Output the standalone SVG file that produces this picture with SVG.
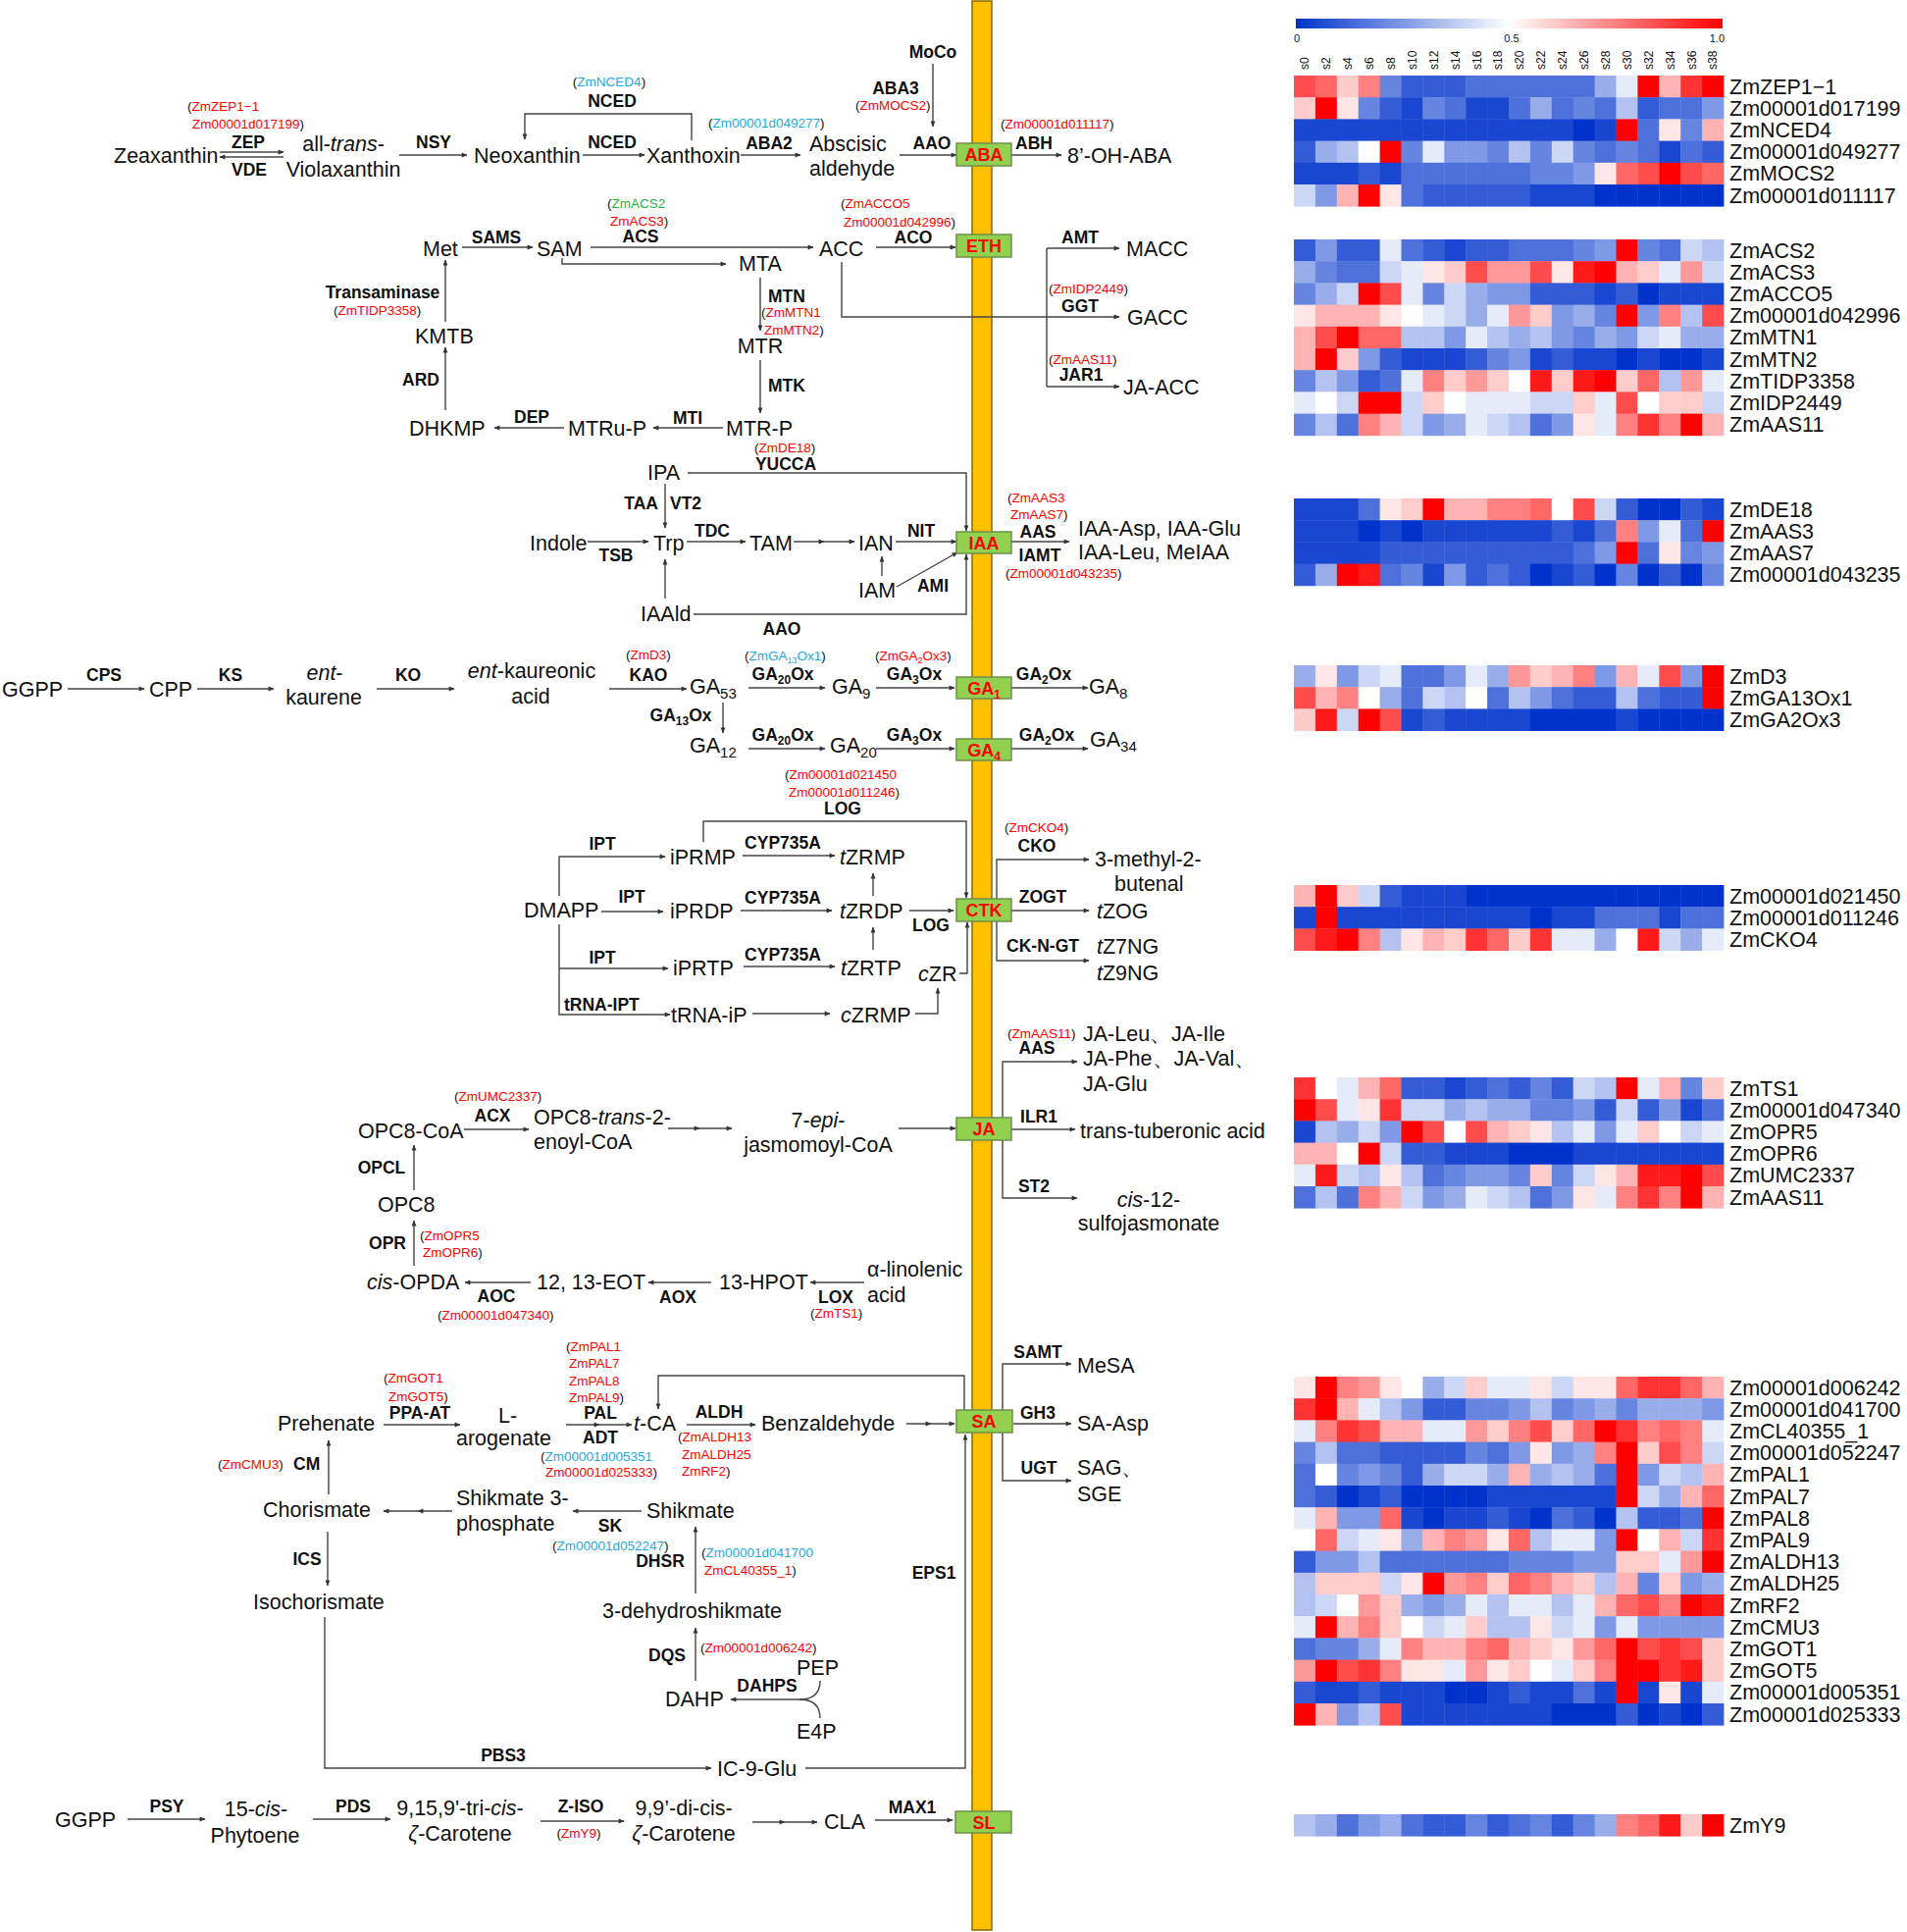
<svg xmlns="http://www.w3.org/2000/svg" width="1944" height="1969" viewBox="0 0 1944 1969">
<style>
text{font-family:"Liberation Sans",Arial,sans-serif;fill:#111}
.tc{font-size:21.5px}
.te{font-size:17.5px;font-weight:bold}
.tg{font-size:13.5px}
.mi{text-anchor:middle}
.en{text-anchor:end}
.it{font-style:italic}
.rd{fill:#FF0000}
.cy{fill:#22A9E1}
.gn{fill:#21B24B}
.bx{fill:#92D050;stroke:#6f8f4a;stroke-width:1.5}
.bt{font-size:18px;font-weight:bold;fill:#FF0000;text-anchor:middle}
.ln path{fill:none;stroke:#444;stroke-width:1.4}
.ln path.arr{marker-end:url(#ah)}
.ln path.mk{marker-mid:url(#ah);marker-end:url(#ah)}
.hl{font-size:21.5px}
.sl{font-size:12px}
.cb{font-size:11px}
.hm rect{width:22.3px;height:22.6px}
.hm .a{fill:#0033CC}.hm .b{fill:#1A47D1}.hm .c{fill:#335CD6}.hm .d{fill:#4D70DB}.hm .e{fill:#6685E0}.hm .f{fill:#8099E6}.hm .g{fill:#99ADEB}.hm .h{fill:#B3C2F0}.hm .i{fill:#CCD6F5}.hm .j{fill:#E6EBFA}.hm .k{fill:#FFFFFF}.hm .l{fill:#FFE6E6}.hm .m{fill:#FFCCCC}.hm .n{fill:#FFB3B3}.hm .o{fill:#FF9999}.hm .p{fill:#FF8080}.hm .q{fill:#FF6666}.hm .r{fill:#FF4D4D}.hm .s{fill:#FF3333}.hm .t{fill:#FF1A1A}.hm .u{fill:#FF0000}
</style>
<defs>
<marker id="ah" viewBox="0 0 10 10" refX="9" refY="5" markerWidth="7" markerHeight="6" markerUnits="userSpaceOnUse" orient="auto"><path d="M0,1 L10,5 L0,9 z" fill="#333"/></marker>
<linearGradient id="cbar" x1="0" y1="0" x2="1" y2="0"><stop offset="0" stop-color="#0033CC"/><stop offset="0.5" stop-color="#FFFFFF"/><stop offset="1" stop-color="#FF0000"/></linearGradient>
</defs>
<rect width="1944" height="1969" fill="#FFFFFF"/>
<g id="bar"><rect x="991" y="1" width="20" height="1966" fill="#FFC000" stroke="#8a6a00" stroke-width="1.5"/></g>

<g id="connectors" class="ln">
<path class="arr" d="M224 155 H289"/>
<path class="arr" d="M289 160 H224"/>
<path class="arr" d="M407 158 H476"/>
<path class="arr" d="M594 158 H657"/>
<path class="arr" d="M705 143 V116 H535 V142"/>
<path class="arr" d="M755 158 H816"/>
<path class="arr" d="M951 65 V129"/>
<path class="arr" d="M917 158 H975"/>
<path class="arr" d="M1031 158 H1082"/>
<path class="arr" d="M471 252 H543"/>
<path class="arr" d="M602 252 H829"/>
<path class="arr" d="M573 263 V269 H740"/>
<path class="arr" d="M893 252 H974"/>
<path class="arr" d="M858 267 V323 H1141"/>
<path d="M1067 253 V394"/>
<path class="arr" d="M1067 253 H1141"/>
<path class="arr" d="M1067 394 H1141"/>
<path class="arr" d="M775 283 V337"/>
<path class="arr" d="M775 367 V421"/>
<path class="arr" d="M737 436 H666"/>
<path class="arr" d="M575 436 H504"/>
<path class="arr" d="M454 418 V354"/>
<path class="arr" d="M454 328 V265"/>
<path class="arr" d="M701 482 H985 V541"/>
<path class="arr" d="M678 493 V538"/>
<path class="arr" d="M599 552 H661"/>
<path class="arr" d="M700 552 H760"/>
<path class="mk" d="M809 552 L840 552 L871 552"/>
<path class="arr" d="M913 552 H975"/>
<path class="arr" d="M899 587 V567"/>
<path class="arr" d="M914 598 L976 563"/>
<path class="arr" d="M707 626 H985 V565"/>
<path class="arr" d="M678 610 V570"/>
<path class="arr" d="M1031 552 H1090"/>
<path class="arr" d="M69 702 H147"/>
<path class="arr" d="M201 702 H279"/>
<path class="arr" d="M384 702 H463"/>
<path class="arr" d="M621 702 H700"/>
<path class="arr" d="M763 701 H841"/>
<path class="arr" d="M893 701 H973"/>
<path class="arr" d="M1031 701 H1109"/>
<path class="arr" d="M737 716 V747"/>
<path class="arr" d="M763 763 H841"/>
<path class="arr" d="M893 763 H973"/>
<path class="arr" d="M1031 763 H1109"/>
<path class="arr" d="M717 858 V837 H985 V915"/>
<path class="arr" d="M570 913 V873 H678"/>
<path class="arr" d="M613 929 H676"/>
<path class="arr" d="M570 942 V1034 H683"/>
<path class="arr" d="M570 987 H681"/>
<path class="arr" d="M757 872 H851"/>
<path class="arr" d="M755 928 H848"/>
<path class="arr" d="M758 985 H851"/>
<path class="arr" d="M927 928 H972"/>
<path class="arr" d="M890 913 V890"/>
<path class="arr" d="M890 968 V945"/>
<path class="arr" d="M978 992 H986 V940"/>
<path class="arr" d="M767 1033 H846"/>
<path class="arr" d="M933 1033 H956 V1007"/>
<path class="arr" d="M1016 916 V876 H1110"/>
<path class="arr" d="M1031 928 H1110"/>
<path class="arr" d="M1016 939 V979 H1110"/>
<path class="arr" d="M473 1151 H539"/>
<path class="mk" d="M681 1150 L713 1150 L746 1150"/>
<path class="arr" d="M916 1150 H974"/>
<path class="arr" d="M1022 1139 V1082 H1098"/>
<path class="arr" d="M1031 1151 H1096"/>
<path class="arr" d="M1022 1162 V1221 H1098"/>
<path class="arr" d="M422 1213 V1167"/>
<path class="arr" d="M422 1290 V1244"/>
<path class="arr" d="M541 1307 H474"/>
<path class="arr" d="M725 1307 H661"/>
<path class="arr" d="M881 1307 H826"/>
<path class="arr" d="M391 1452 H469"/>
<path class="mk" d="M577 1452 L611 1452 L644 1452"/>
<path class="arr" d="M700 1452 H770"/>
<path class="mk" d="M924 1451 L949 1451 L973 1451"/>
<path class="arr" d="M983 1437 V1402 H671 V1436"/>
<path class="arr" d="M1022 1437 V1390 H1092"/>
<path class="arr" d="M1033 1451 H1092"/>
<path class="arr" d="M1022 1460 V1509 H1092"/>
<path class="arr" d="M335 1523 V1468"/>
<path class="mk" d="M461 1540 L426 1540 L391 1540"/>
<path class="arr" d="M654 1540 H584"/>
<path class="arr" d="M709 1624 V1556"/>
<path class="arr" d="M709 1713 V1659"/>
<path class="arr" d="M815 1732 H745"/>
<path d="M836 1713 Q836 1732 815 1732"/>
<path d="M836 1751 Q836 1732 815 1732"/>
<path class="arr" d="M334 1561 V1616"/>
<path class="arr" d="M331 1648 V1802 H725"/>
<path class="arr" d="M821 1802 H984 V1462"/>
<path class="arr" d="M130 1854 H209"/>
<path class="arr" d="M319 1854 H398"/>
<path class="arr" d="M551 1856 H636"/>
<path class="mk" d="M767 1857 L800 1857 L833 1857"/>
<path class="arr" d="M892 1855 H971"/>
</g>

<g id="hormones">
<g id="ABA"><rect class="bx" x="975" y="146" width="56" height="23"/><text class="bt" x="1003" y="164">ABA</text></g>
<g id="ETH"><rect class="bx" x="975" y="239" width="56" height="23"/><text class="bt" x="1003" y="257">ETH</text></g>
<g id="IAA"><rect class="bx" x="975" y="542" width="56" height="22"/><text class="bt" x="1003" y="559.5">IAA</text></g>
<g id="GA1"><rect class="bx" x="975" y="690" width="56" height="22"/><text class="bt" x="1003" y="707.5">GA<tspan font-size="12" dy="4">1</tspan></text></g>
<g id="GA4"><rect class="bx" x="975" y="753" width="56" height="22"/><text class="bt" x="1003" y="770.5">GA<tspan font-size="12" dy="4">4</tspan></text></g>
<g id="CTK"><rect class="bx" x="975" y="916" width="56" height="23"/><text class="bt" x="1003" y="934">CTK</text></g>
<g id="JA"><rect class="bx" x="975" y="1139" width="56" height="23"/><text class="bt" x="1003" y="1157">JA</text></g>
<g id="SA"><rect class="bx" x="975" y="1437" width="57" height="23"/><text class="bt" x="1003" y="1455">SA</text></g>
<g id="SL"><rect class="bx" x="974" y="1846" width="57" height="22"/><text class="bt" x="1003" y="1863.5">SL</text></g>
</g>

<g id="nodes-aba">
<g id="n-zeaxanthin"><text class="tc" x="116" y="166">Zeaxanthin</text></g>
<g id="n-violaxanthin"><text class="tc mi" x="350" y="154">all-<tspan class="it">trans</tspan>-</text><text class="tc mi" x="350" y="180">Violaxanthin</text></g>
<g id="n-neoxanthin"><text class="tc" x="483" y="166">Neoxanthin</text></g>
<g id="n-xanthoxin"><text class="tc" x="659" y="166">Xanthoxin</text></g>
<g id="n-abscisic"><text class="tc" x="825" y="154">Abscisic</text><text class="tc" x="825" y="179">aldehyde</text></g>
<g id="n-moco"><text class="te mi" x="951" y="59">MoCo</text></g>
<g id="n-ohaba"><text class="tc" x="1088" y="166">8’-OH-ABA</text></g>
</g>
<g id="labels-aba">
<text class="tg" x="191" y="113">(<tspan class="rd">ZmZEP1−1</tspan></text>
<text class="tg" x="196" y="131"><tspan class="rd">Zm00001d017199</tspan>)</text>
<text class="te mi" x="253" y="151">ZEP</text>
<text class="te mi" x="254" y="179">VDE</text>
<text class="te mi" x="442" y="151">NSY</text>
<text class="te mi" x="624" y="151">NCED</text>
<text class="te mi" x="624" y="109">NCED</text>
<text class="tg mi" x="621" y="88">(<tspan class="cy">ZmNCED4</tspan>)</text>
<text class="tg" x="722" y="130">(<tspan class="cy">Zm00001d049277</tspan>)</text>
<text class="te mi" x="784" y="152">ABA2</text>
<text class="te mi" x="913" y="96">ABA3</text>
<text class="tg" x="872" y="112">(<tspan class="rd">ZmMOCS2</tspan>)</text>
<text class="te mi" x="950" y="152">AAO</text>
<text class="tg" x="1020" y="131">(<tspan class="rd">Zm00001d011117</tspan>)</text>
<text class="te mi" x="1054" y="152">ABH</text>
</g>

<g id="nodes-eth">
<g id="n-met"><text class="tc" x="431" y="261">Met</text></g>
<g id="n-sam"><text class="tc" x="547" y="261">SAM</text></g>
<g id="n-mta"><text class="tc" x="753" y="276">MTA</text></g>
<g id="n-acc"><text class="tc" x="835" y="261">ACC</text></g>
<g id="n-macc"><text class="tc" x="1148" y="261">MACC</text></g>
<g id="n-gacc"><text class="tc" x="1149" y="331">GACC</text></g>
<g id="n-jaacc"><text class="tc" x="1145" y="402">JA-ACC</text></g>
<g id="n-mtr"><text class="tc mi" x="775" y="360">MTR</text></g>
<g id="n-mtrp"><text class="tc" x="740" y="444">MTR-P</text></g>
<g id="n-mtrup"><text class="tc" x="579" y="444">MTRu-P</text></g>
<g id="n-dhkmp"><text class="tc" x="417" y="444">DHKMP</text></g>
<g id="n-kmtb"><text class="tc" x="423" y="350">KMTB</text></g>
</g>
<g id="labels-eth">
<text class="te mi" x="506" y="248">SAMS</text>
<text class="te mi" x="653" y="247">ACS</text>
<text class="tg" x="619" y="212">(<tspan class="gn">ZmACS2</tspan></text>
<text class="tg" x="622" y="230"><tspan class="rd">ZmACS3</tspan>)</text>
<text class="te mi" x="931" y="248">ACO</text>
<text class="tg" x="857" y="212">(<tspan class="rd">ZmACCO5</tspan></text>
<text class="tg" x="860" y="231"><tspan class="rd">Zm00001d042996</tspan>)</text>
<text class="te mi" x="1101" y="248">AMT</text>
<text class="tg" x="1069" y="299">(<tspan class="rd">ZmIDP2449</tspan>)</text>
<text class="te mi" x="1101" y="318">GGT</text>
<text class="tg" x="1069" y="371">(<tspan class="rd">ZmAAS11</tspan>)</text>
<text class="te mi" x="1102" y="388">JAR1</text>
<text class="te mi" x="802" y="308">MTN</text>
<text class="tg" x="776" y="323">(<tspan class="rd">ZmMTN1</tspan></text>
<text class="tg" x="779" y="341"><tspan class="rd">ZmMTN2</tspan>)</text>
<text class="te mi" x="802" y="399">MTK</text>
<text class="te mi" x="701" y="432">MTI</text>
<text class="te mi" x="542" y="431">DEP</text>
<text class="te mi" x="429" y="393">ARD</text>
<text class="te mi" x="390" y="304">Transaminase</text>
<text class="tg" x="340" y="321">(<tspan class="rd">ZmTIDP3358</tspan>)</text>
</g>

<g id="nodes-iaa">
<g id="n-ipa"><text class="tc" x="660" y="489">IPA</text></g>
<g id="n-trp"><text class="tc" x="666" y="561">Trp</text></g>
<g id="n-indole"><text class="tc" x="540" y="561">Indole</text></g>
<g id="n-tam"><text class="tc" x="764" y="561">TAM</text></g>
<g id="n-ian"><text class="tc" x="875" y="561">IAN</text></g>
<g id="n-iam"><text class="tc" x="875" y="609">IAM</text></g>
<g id="n-iaald"><text class="tc" x="653" y="633">IAAld</text></g>
<g id="n-iaaconj"><text class="tc" x="1099" y="546">IAA-Asp, IAA-Glu</text><text class="tc" x="1099" y="570">IAA-Leu, MeIAA</text></g>
</g>
<g id="labels-iaa">
<text class="tg" x="769" y="461">(<tspan class="rd">ZmDE18</tspan>)</text>
<text class="te mi" x="801" y="479">YUCCA</text>
<text class="te en" x="671" y="519">TAA</text>
<text class="te" x="683" y="519">VT2</text>
<text class="te mi" x="628" y="572">TSB</text>
<text class="te mi" x="726" y="547">TDC</text>
<text class="te mi" x="939" y="547">NIT</text>
<text class="te mi" x="951" y="603">AMI</text>
<text class="te mi" x="797" y="647">AAO</text>
<text class="tg" x="1027" y="512">(<tspan class="rd">ZmAAS3</tspan></text>
<text class="tg" x="1030" y="529"><tspan class="rd">ZmAAS7</tspan>)</text>
<text class="te mi" x="1058" y="548">AAS</text>
<text class="te mi" x="1060" y="572">IAMT</text>
<text class="tg" x="1025" y="589">(<tspan class="rd">Zm00001d043235</tspan>)</text>
</g>

<g id="nodes-ga">
<g id="n-ggpp1"><text class="tc" x="2" y="710">GGPP</text></g>
<g id="n-cpp"><text class="tc" x="152" y="710">CPP</text></g>
<g id="n-entkaurene"><text class="tc mi" x="331" y="693"><tspan class="it">ent</tspan>-</text><text class="tc mi" x="330" y="718">kaurene</text></g>
<g id="n-kaureonic"><text class="tc mi" x="542" y="691"><tspan class="it">ent</tspan>-kaureonic</text><text class="tc mi" x="541" y="717">acid</text></g>
<g id="n-ga53"><text class="tc" x="703" y="707">GA<tspan font-size="15" dy="5">53</tspan></text></g>
<g id="n-ga9"><text class="tc" x="848" y="707">GA<tspan font-size="15" dy="5">9</tspan></text></g>
<g id="n-ga8"><text class="tc" x="1110" y="707">GA<tspan font-size="15" dy="5">8</tspan></text></g>
<g id="n-ga12"><text class="tc" x="703" y="767">GA<tspan font-size="15" dy="5">12</tspan></text></g>
<g id="n-ga20"><text class="tc" x="846" y="767">GA<tspan font-size="15" dy="5">20</tspan></text></g>
<g id="n-ga34"><text class="tc" x="1111" y="761">GA<tspan font-size="15" dy="5">34</tspan></text></g>
</g>
<g id="labels-ga">
<text class="te mi" x="106" y="694">CPS</text>
<text class="te mi" x="235" y="694">KS</text>
<text class="te mi" x="416" y="694">KO</text>
<text class="te mi" x="661" y="694">KAO</text>
<text class="tg" x="638" y="672">(<tspan class="rd">ZmD3</tspan>)</text>
<text class="te mi" x="798" y="693">GA<tspan font-size="12" dy="4">20</tspan><tspan dy="-4">Ox</tspan></text>
<text class="tg" x="759" y="673">(<tspan class="cy">ZmGA<tspan font-size="9" dy="3">13</tspan><tspan dy="-3">Ox1</tspan></tspan>)</text>
<text class="te mi" x="932" y="693">GA<tspan font-size="12" dy="4">3</tspan><tspan dy="-4">Ox</tspan></text>
<text class="tg" x="892" y="673">(<tspan class="rd">ZmGA<tspan font-size="9" dy="3">2</tspan><tspan dy="-3">Ox3</tspan></tspan>)</text>
<text class="te mi" x="1064" y="693">GA<tspan font-size="12" dy="4">2</tspan><tspan dy="-4">Ox</tspan></text>
<text class="te mi" x="694" y="735">GA<tspan font-size="12" dy="4">13</tspan><tspan dy="-4">Ox</tspan></text>
<text class="te mi" x="798" y="755">GA<tspan font-size="12" dy="4">20</tspan><tspan dy="-4">Ox</tspan></text>
<text class="te mi" x="932" y="755">GA<tspan font-size="12" dy="4">3</tspan><tspan dy="-4">Ox</tspan></text>
<text class="te mi" x="1067" y="755">GA<tspan font-size="12" dy="4">2</tspan><tspan dy="-4">Ox</tspan></text>
</g>

<g id="nodes-ctk">
<g id="n-dmapp"><text class="tc" x="534" y="935">DMAPP</text></g>
<g id="n-iprmp"><text class="tc" x="683" y="881">iPRMP</text></g>
<g id="n-tzrmp"><text class="tc" x="856" y="881"><tspan class="it">t</tspan>ZRMP</text></g>
<g id="n-iprdp"><text class="tc" x="683" y="936">iPRDP</text></g>
<g id="n-tzrdp"><text class="tc" x="856" y="936"><tspan class="it">t</tspan>ZRDP</text></g>
<g id="n-iprtp"><text class="tc" x="686" y="994">iPRTP</text></g>
<g id="n-tzrtp"><text class="tc" x="857" y="994"><tspan class="it">t</tspan>ZRTP</text></g>
<g id="n-czr"><text class="tc" x="936" y="1000"><tspan class="it">c</tspan>ZR</text></g>
<g id="n-trnaip"><text class="tc" x="684" y="1042">tRNA-iP</text></g>
<g id="n-czrmp"><text class="tc" x="857" y="1042"><tspan class="it">c</tspan>ZRMP</text></g>
<g id="n-butenal"><text class="tc" x="1116" y="883">3-methyl-2-</text><text class="tc" x="1136" y="908">butenal</text></g>
<g id="n-tzog"><text class="tc" x="1118" y="936"><tspan class="it">t</tspan>ZOG</text></g>
<g id="n-tzng"><text class="tc" x="1118" y="972"><tspan class="it">t</tspan>Z7NG</text><text class="tc" x="1118" y="999"><tspan class="it">t</tspan>Z9NG</text></g>
</g>
<g id="labels-ctk">
<text class="tg" x="800" y="794">(<tspan class="rd">Zm00001d021450</tspan></text>
<text class="tg" x="804" y="812"><tspan class="rd">Zm00001d011246</tspan>)</text>
<text class="te mi" x="859" y="830">LOG</text>
<text class="te mi" x="614" y="866">IPT</text>
<text class="te mi" x="644" y="920">IPT</text>
<text class="te mi" x="614" y="982">IPT</text>
<text class="te" x="575" y="1030">tRNA-IPT</text>
<text class="te mi" x="798" y="865">CYP735A</text>
<text class="te mi" x="798" y="921">CYP735A</text>
<text class="te mi" x="798" y="979">CYP735A</text>
<text class="te mi" x="949" y="949">LOG</text>
<text class="tg" x="1024" y="848">(<tspan class="rd">ZmCKO4</tspan>)</text>
<text class="te mi" x="1057" y="868">CKO</text>
<text class="te mi" x="1063" y="920">ZOGT</text>
<text class="te mi" x="1063" y="970">CK-N-GT</text>
</g>

<g id="nodes-ja">
<g id="n-opc8coa"><text class="tc" x="365" y="1160">OPC8-CoA</text></g>
<g id="n-enoyl"><text class="tc" x="544" y="1146">OPC8-<tspan class="it">trans</tspan>-2-</text><text class="tc" x="544" y="1171">enoyl-CoA</text></g>
<g id="n-jasmo"><text class="tc mi" x="834" y="1149">7-<tspan class="it">epi</tspan>-</text><text class="tc mi" x="834" y="1174">jasmomoyl-CoA</text></g>
<g id="n-jaconj"><text class="tc" x="1104" y="1061">JA-Leu、JA-Ile</text><text class="tc" x="1104" y="1086">JA-Phe、JA-Val、</text><text class="tc" x="1104" y="1112">JA-Glu</text></g>
<g id="n-tuberonic"><text class="tc" x="1101" y="1160">trans-tuberonic acid</text></g>
<g id="n-sulfo"><text class="tc mi" x="1171" y="1230"><tspan class="it">cis</tspan>-12-</text><text class="tc mi" x="1171" y="1254">sulfojasmonate</text></g>
<g id="n-opc8"><text class="tc" x="385" y="1235">OPC8</text></g>
<g id="n-opda"><text class="tc" x="374" y="1314"><tspan class="it">cis</tspan>-OPDA</text></g>
<g id="n-eot"><text class="tc" x="547" y="1314">12, 13-EOT</text></g>
<g id="n-hpot"><text class="tc" x="733" y="1314">13-HPOT</text></g>
<g id="n-linolenic"><text class="tc" x="884" y="1301">α-linolenic</text><text class="tc" x="884" y="1327">acid</text></g>
</g>
<g id="labels-ja">
<text class="tg" x="463" y="1122">(<tspan class="rd">ZmUMC2337</tspan>)</text>
<text class="te mi" x="502" y="1143">ACX</text>
<text class="tg" x="1027" y="1058">(<tspan class="rd">ZmAAS11</tspan>)</text>
<text class="te mi" x="1057" y="1074">AAS</text>
<text class="te mi" x="1059" y="1144">ILR1</text>
<text class="te mi" x="1054" y="1215">ST2</text>
<text class="te mi" x="389" y="1196">OPCL</text>
<text class="te mi" x="395" y="1273">OPR</text>
<text class="tg" x="428" y="1264">(<tspan class="rd">ZmOPR5</tspan></text>
<text class="tg" x="431" y="1281"><tspan class="rd">ZmOPR6</tspan>)</text>
<text class="te mi" x="506" y="1327">AOC</text>
<text class="tg" x="446" y="1345">(<tspan class="rd">Zm00001d047340</tspan>)</text>
<text class="te mi" x="691" y="1328">AOX</text>
<text class="te mi" x="852" y="1328">LOX</text>
<text class="tg" x="826" y="1343">(<tspan class="rd">ZmTS1</tspan>)</text>
</g>

<g id="nodes-sa">
<g id="n-prehenate"><text class="tc" x="283" y="1458">Prehenate</text></g>
<g id="n-arogenate"><text class="tc" x="508" y="1450">L-</text><text class="tc" x="465" y="1473">arogenate</text></g>
<g id="n-tca"><text class="tc" x="646" y="1458"><tspan class="it">t</tspan>-CA</text></g>
<g id="n-benzaldehyde"><text class="tc" x="776" y="1458">Benzaldehyde</text></g>
<g id="n-mesa"><text class="tc" x="1098" y="1399">MeSA</text></g>
<g id="n-saasp"><text class="tc" x="1098" y="1458">SA-Asp</text></g>
<g id="n-sag"><text class="tc" x="1098" y="1503">SAG、</text><text class="tc" x="1098" y="1530">SGE</text></g>
<g id="n-chorismate"><text class="tc" x="268" y="1546">Chorismate</text></g>
<g id="n-s3p"><text class="tc" x="465" y="1534">Shikmate 3-</text><text class="tc" x="465" y="1560">phosphate</text></g>
<g id="n-shikmate"><text class="tc" x="659" y="1547">Shikmate</text></g>
<g id="n-dhs"><text class="tc" x="614" y="1649">3-dehydroshikmate</text></g>
<g id="n-dahp"><text class="tc" x="678" y="1739">DAHP</text></g>
<g id="n-pep"><text class="tc" x="812" y="1707">PEP</text></g>
<g id="n-e4p"><text class="tc" x="812" y="1772">E4P</text></g>
<g id="n-isochorismate"><text class="tc" x="258" y="1640">Isochorismate</text></g>
<g id="n-ic9glu"><text class="tc" x="731" y="1810">IC-9-Glu</text></g>
</g>
<g id="labels-sa">
<text class="tg" x="577" y="1377">(<tspan class="rd">ZmPAL1</tspan></text>
<text class="tg rd" x="580" y="1394">ZmPAL7</text>
<text class="tg rd" x="580" y="1412">ZmPAL8</text>
<text class="tg" x="580" y="1429"><tspan class="rd">ZmPAL9</tspan>)</text>
<text class="te mi" x="612" y="1446">PAL</text>
<text class="te mi" x="612" y="1471">ADT</text>
<text class="tg" x="391" y="1409">(<tspan class="rd">ZmGOT1</tspan></text>
<text class="tg" x="396" y="1428"><tspan class="rd">ZmGOT5</tspan>)</text>
<text class="te mi" x="428" y="1446">PPA-AT</text>
<text class="tg" x="551" y="1489">(<tspan class="cy">Zm00001d005351</tspan></text>
<text class="tg" x="556" y="1505"><tspan class="rd">Zm00001d025333</tspan>)</text>
<text class="te mi" x="733" y="1445">ALDH</text>
<text class="tg" x="691" y="1469">(<tspan class="rd">ZmALDH13</tspan></text>
<text class="tg rd" x="695" y="1487">ZmALDH25</text>
<text class="tg" x="695" y="1504"><tspan class="rd">ZmRF2</tspan>)</text>
<text class="te mi" x="1058" y="1384">SAMT</text>
<text class="te mi" x="1058" y="1446">GH3</text>
<text class="te mi" x="1059" y="1502">UGT</text>
<text class="tg" x="222" y="1497">(<tspan class="rd">ZmCMU3</tspan>)</text>
<text class="te" x="299" y="1498">CM</text>
<text class="te mi" x="622" y="1561">SK</text>
<text class="tg" x="563" y="1580">(<tspan class="cy">Zm00001d052247</tspan>)</text>
<text class="te mi" x="673" y="1597">DHSR</text>
<text class="tg" x="715" y="1587">(<tspan class="cy">Zm00001d041700</tspan></text>
<text class="tg" x="718" y="1605"><tspan class="rd">ZmCL40355_1</tspan>)</text>
<text class="te mi" x="680" y="1693">DQS</text>
<text class="tg" x="714" y="1684">(<tspan class="rd">Zm00001d006242</tspan>)</text>
<text class="te mi" x="782" y="1724">DAHPS</text>
<text class="te mi" x="313" y="1595">ICS</text>
<text class="te mi" x="513" y="1795">PBS3</text>
<text class="te mi" x="952" y="1609">EPS1</text>
</g>

<g id="nodes-sl">
<g id="n-ggpp2"><text class="tc" x="56" y="1862">GGPP</text></g>
<g id="n-phytoene"><text class="tc mi" x="261" y="1851">15-<tspan class="it">cis</tspan>-</text><text class="tc mi" x="260" y="1878">Phytoene</text></g>
<g id="n-tricis"><text class="tc mi" x="469" y="1850">9,15,9'-tri-<tspan class="it">cis</tspan>-</text><text class="tc mi" x="469" y="1876"><tspan class="it">ζ</tspan>-Carotene</text></g>
<g id="n-dicis"><text class="tc mi" x="697" y="1850">9,9’-di-cis-</text><text class="tc mi" x="697" y="1876"><tspan class="it">ζ</tspan>-Carotene</text></g>
<g id="n-cla"><text class="tc" x="840" y="1864">CLA</text></g>
</g>
<g id="labels-sl">
<text class="te mi" x="170" y="1847">PSY</text>
<text class="te mi" x="360" y="1847">PDS</text>
<text class="te mi" x="592" y="1847">Z-ISO</text>
<text class="tg mi" x="590" y="1873">(<tspan class="rd">ZmY9</tspan>)</text>
<text class="te mi" x="930" y="1848">MAX1</text>
</g>

<g id="colorbar">
<rect x="1321" y="19" width="435" height="10" fill="url(#cbar)"/>
<text class="cb" x="1319" y="43">0</text>
<text class="cb mi" x="1541" y="43">0.5</text>
<text class="cb en" x="1758" y="43">1.0</text>
</g>
<g id="col-labels" class="sl">
<text transform="translate(1334.3,71) rotate(-90)">s0</text>
<text transform="translate(1356.2,71) rotate(-90)">s2</text>
<text transform="translate(1378.1,71) rotate(-90)">s4</text>
<text transform="translate(1400,71) rotate(-90)">s6</text>
<text transform="translate(1421.9,71) rotate(-90)">s8</text>
<text transform="translate(1443.8,71) rotate(-90)">s10</text>
<text transform="translate(1465.7,71) rotate(-90)">s12</text>
<text transform="translate(1487.6,71) rotate(-90)">s14</text>
<text transform="translate(1509.5,71) rotate(-90)">s16</text>
<text transform="translate(1531.4,71) rotate(-90)">s18</text>
<text transform="translate(1553.3,71) rotate(-90)">s20</text>
<text transform="translate(1575.2,71) rotate(-90)">s22</text>
<text transform="translate(1597.1,71) rotate(-90)">s24</text>
<text transform="translate(1619,71) rotate(-90)">s26</text>
<text transform="translate(1640.9,71) rotate(-90)">s28</text>
<text transform="translate(1662.8,71) rotate(-90)">s30</text>
<text transform="translate(1684.7,71) rotate(-90)">s32</text>
<text transform="translate(1706.6,71) rotate(-90)">s34</text>
<text transform="translate(1728.5,71) rotate(-90)">s36</text>
<text transform="translate(1750.4,71) rotate(-90)">s38</text>
</g>

<g id="heatmap" class="hm">
<g transform="translate(1319,77)"><rect x="0" class="r"/><rect x="21.9" class="q"/><rect x="43.8" class="m"/><rect x="65.7" class="p"/><rect x="87.6" class="e"/><rect x="109.5" class="c"/><rect x="131.4" class="c"/><rect x="153.3" class="c"/><rect x="175.2" class="d"/><rect x="197.1" class="d"/><rect x="219" class="d"/><rect x="240.9" class="d"/><rect x="262.8" class="d"/><rect x="284.7" class="d"/><rect x="306.6" class="g"/><rect x="328.5" class="j"/><rect x="350.4" class="u"/><rect x="372.3" class="n"/><rect x="394.2" class="s"/><rect x="416.1" class="u"/></g>
<g transform="translate(1319,99.2)"><rect x="0" class="m"/><rect x="21.9" class="u"/><rect x="43.8" class="l"/><rect x="65.7" class="e"/><rect x="87.6" class="c"/><rect x="109.5" class="b"/><rect x="131.4" class="e"/><rect x="153.3" class="d"/><rect x="175.2" class="b"/><rect x="197.1" class="b"/><rect x="219" class="d"/><rect x="240.9" class="g"/><rect x="262.8" class="d"/><rect x="284.7" class="e"/><rect x="306.6" class="d"/><rect x="328.5" class="h"/><rect x="350.4" class="c"/><rect x="372.3" class="d"/><rect x="394.2" class="d"/><rect x="416.1" class="f"/></g>
<g transform="translate(1319,121.4)"><rect x="0" class="b"/><rect x="21.9" class="b"/><rect x="43.8" class="b"/><rect x="65.7" class="b"/><rect x="87.6" class="b"/><rect x="109.5" class="b"/><rect x="131.4" class="b"/><rect x="153.3" class="b"/><rect x="175.2" class="b"/><rect x="197.1" class="b"/><rect x="219" class="b"/><rect x="240.9" class="b"/><rect x="262.8" class="b"/><rect x="284.7" class="a"/><rect x="306.6" class="b"/><rect x="328.5" class="u"/><rect x="350.4" class="d"/><rect x="372.3" class="l"/><rect x="394.2" class="e"/><rect x="416.1" class="n"/></g>
<g transform="translate(1319,143.6)"><rect x="0" class="c"/><rect x="21.9" class="g"/><rect x="43.8" class="h"/><rect x="65.7" class="k"/><rect x="87.6" class="u"/><rect x="109.5" class="e"/><rect x="131.4" class="j"/><rect x="153.3" class="f"/><rect x="175.2" class="f"/><rect x="197.1" class="e"/><rect x="219" class="h"/><rect x="240.9" class="e"/><rect x="262.8" class="i"/><rect x="284.7" class="e"/><rect x="306.6" class="d"/><rect x="328.5" class="e"/><rect x="350.4" class="d"/><rect x="372.3" class="b"/><rect x="394.2" class="d"/><rect x="416.1" class="c"/></g>
<g transform="translate(1319,165.8)"><rect x="0" class="b"/><rect x="21.9" class="b"/><rect x="43.8" class="b"/><rect x="65.7" class="c"/><rect x="87.6" class="b"/><rect x="109.5" class="d"/><rect x="131.4" class="d"/><rect x="153.3" class="d"/><rect x="175.2" class="d"/><rect x="197.1" class="d"/><rect x="219" class="d"/><rect x="240.9" class="e"/><rect x="262.8" class="e"/><rect x="284.7" class="f"/><rect x="306.6" class="l"/><rect x="328.5" class="q"/><rect x="350.4" class="r"/><rect x="372.3" class="u"/><rect x="394.2" class="r"/><rect x="416.1" class="q"/></g>
<g transform="translate(1319,188)"><rect x="0" class="i"/><rect x="21.9" class="f"/><rect x="43.8" class="n"/><rect x="65.7" class="u"/><rect x="87.6" class="l"/><rect x="109.5" class="d"/><rect x="131.4" class="c"/><rect x="153.3" class="c"/><rect x="175.2" class="c"/><rect x="197.1" class="c"/><rect x="219" class="c"/><rect x="240.9" class="b"/><rect x="262.8" class="b"/><rect x="284.7" class="b"/><rect x="306.6" class="a"/><rect x="328.5" class="a"/><rect x="350.4" class="a"/><rect x="372.3" class="a"/><rect x="394.2" class="a"/><rect x="416.1" class="a"/></g>

<g transform="translate(1319,244)"><rect x="0" class="c"/><rect x="21.9" class="f"/><rect x="43.8" class="c"/><rect x="65.7" class="c"/><rect x="87.6" class="j"/><rect x="109.5" class="d"/><rect x="131.4" class="c"/><rect x="153.3" class="b"/><rect x="175.2" class="c"/><rect x="197.1" class="c"/><rect x="219" class="d"/><rect x="240.9" class="d"/><rect x="262.8" class="d"/><rect x="284.7" class="e"/><rect x="306.6" class="f"/><rect x="328.5" class="u"/><rect x="350.4" class="e"/><rect x="372.3" class="d"/><rect x="394.2" class="i"/><rect x="416.1" class="h"/></g>
<g transform="translate(1319,266.2)"><rect x="0" class="g"/><rect x="21.9" class="e"/><rect x="43.8" class="d"/><rect x="65.7" class="d"/><rect x="87.6" class="i"/><rect x="109.5" class="j"/><rect x="131.4" class="l"/><rect x="153.3" class="m"/><rect x="175.2" class="r"/><rect x="197.1" class="o"/><rect x="219" class="o"/><rect x="240.9" class="r"/><rect x="262.8" class="l"/><rect x="284.7" class="t"/><rect x="306.6" class="u"/><rect x="328.5" class="n"/><rect x="350.4" class="m"/><rect x="372.3" class="j"/><rect x="394.2" class="o"/><rect x="416.1" class="i"/></g>
<g transform="translate(1319,288.4)"><rect x="0" class="e"/><rect x="21.9" class="g"/><rect x="43.8" class="i"/><rect x="65.7" class="u"/><rect x="87.6" class="r"/><rect x="109.5" class="j"/><rect x="131.4" class="e"/><rect x="153.3" class="i"/><rect x="175.2" class="g"/><rect x="197.1" class="f"/><rect x="219" class="f"/><rect x="240.9" class="c"/><rect x="262.8" class="c"/><rect x="284.7" class="c"/><rect x="306.6" class="b"/><rect x="328.5" class="c"/><rect x="350.4" class="a"/><rect x="372.3" class="b"/><rect x="394.2" class="b"/><rect x="416.1" class="b"/></g>
<g transform="translate(1319,310.6)"><rect x="0" class="l"/><rect x="21.9" class="n"/><rect x="43.8" class="n"/><rect x="65.7" class="n"/><rect x="87.6" class="l"/><rect x="109.5" class="k"/><rect x="131.4" class="j"/><rect x="153.3" class="i"/><rect x="175.2" class="g"/><rect x="197.1" class="j"/><rect x="219" class="o"/><rect x="240.9" class="m"/><rect x="262.8" class="f"/><rect x="284.7" class="g"/><rect x="306.6" class="e"/><rect x="328.5" class="u"/><rect x="350.4" class="f"/><rect x="372.3" class="p"/><rect x="394.2" class="h"/><rect x="416.1" class="r"/></g>
<g transform="translate(1319,332.8)"><rect x="0" class="n"/><rect x="21.9" class="r"/><rect x="43.8" class="u"/><rect x="65.7" class="q"/><rect x="87.6" class="q"/><rect x="109.5" class="h"/><rect x="131.4" class="h"/><rect x="153.3" class="f"/><rect x="175.2" class="j"/><rect x="197.1" class="h"/><rect x="219" class="g"/><rect x="240.9" class="h"/><rect x="262.8" class="f"/><rect x="284.7" class="e"/><rect x="306.6" class="g"/><rect x="328.5" class="f"/><rect x="350.4" class="i"/><rect x="372.3" class="j"/><rect x="394.2" class="g"/><rect x="416.1" class="g"/></g>
<g transform="translate(1319,355)"><rect x="0" class="n"/><rect x="21.9" class="u"/><rect x="43.8" class="m"/><rect x="65.7" class="f"/><rect x="87.6" class="c"/><rect x="109.5" class="b"/><rect x="131.4" class="b"/><rect x="153.3" class="b"/><rect x="175.2" class="c"/><rect x="197.1" class="e"/><rect x="219" class="f"/><rect x="240.9" class="b"/><rect x="262.8" class="c"/><rect x="284.7" class="b"/><rect x="306.6" class="b"/><rect x="328.5" class="a"/><rect x="350.4" class="b"/><rect x="372.3" class="a"/><rect x="394.2" class="a"/><rect x="416.1" class="b"/></g>
<g transform="translate(1319,377.2)"><rect x="0" class="e"/><rect x="21.9" class="h"/><rect x="43.8" class="f"/><rect x="65.7" class="c"/><rect x="87.6" class="d"/><rect x="109.5" class="j"/><rect x="131.4" class="p"/><rect x="153.3" class="m"/><rect x="175.2" class="o"/><rect x="197.1" class="m"/><rect x="219" class="k"/><rect x="240.9" class="t"/><rect x="262.8" class="m"/><rect x="284.7" class="t"/><rect x="306.6" class="u"/><rect x="328.5" class="m"/><rect x="350.4" class="q"/><rect x="372.3" class="h"/><rect x="394.2" class="o"/><rect x="416.1" class="j"/></g>
<g transform="translate(1319,399.4)"><rect x="0" class="j"/><rect x="21.9" class="k"/><rect x="43.8" class="i"/><rect x="65.7" class="u"/><rect x="87.6" class="u"/><rect x="109.5" class="i"/><rect x="131.4" class="m"/><rect x="153.3" class="k"/><rect x="175.2" class="j"/><rect x="197.1" class="j"/><rect x="219" class="j"/><rect x="240.9" class="i"/><rect x="262.8" class="i"/><rect x="284.7" class="m"/><rect x="306.6" class="j"/><rect x="328.5" class="r"/><rect x="350.4" class="k"/><rect x="372.3" class="m"/><rect x="394.2" class="m"/><rect x="416.1" class="i"/></g>
<g transform="translate(1319,421.6)"><rect x="0" class="e"/><rect x="21.9" class="h"/><rect x="43.8" class="d"/><rect x="65.7" class="p"/><rect x="87.6" class="n"/><rect x="109.5" class="i"/><rect x="131.4" class="f"/><rect x="153.3" class="g"/><rect x="175.2" class="j"/><rect x="197.1" class="i"/><rect x="219" class="h"/><rect x="240.9" class="d"/><rect x="262.8" class="f"/><rect x="284.7" class="l"/><rect x="306.6" class="j"/><rect x="328.5" class="p"/><rect x="350.4" class="s"/><rect x="372.3" class="p"/><rect x="394.2" class="u"/><rect x="416.1" class="n"/></g>

<g transform="translate(1319,508)"><rect x="0" class="b"/><rect x="21.9" class="b"/><rect x="43.8" class="b"/><rect x="65.7" class="d"/><rect x="87.6" class="l"/><rect x="109.5" class="m"/><rect x="131.4" class="u"/><rect x="153.3" class="n"/><rect x="175.2" class="n"/><rect x="197.1" class="p"/><rect x="219" class="p"/><rect x="240.9" class="q"/><rect x="262.8" class="k"/><rect x="284.7" class="r"/><rect x="306.6" class="i"/><rect x="328.5" class="c"/><rect x="350.4" class="a"/><rect x="372.3" class="a"/><rect x="394.2" class="c"/><rect x="416.1" class="b"/></g>
<g transform="translate(1319,530.2)"><rect x="0" class="b"/><rect x="21.9" class="b"/><rect x="43.8" class="b"/><rect x="65.7" class="a"/><rect x="87.6" class="b"/><rect x="109.5" class="a"/><rect x="131.4" class="b"/><rect x="153.3" class="b"/><rect x="175.2" class="b"/><rect x="197.1" class="b"/><rect x="219" class="b"/><rect x="240.9" class="b"/><rect x="262.8" class="c"/><rect x="284.7" class="b"/><rect x="306.6" class="d"/><rect x="328.5" class="p"/><rect x="350.4" class="f"/><rect x="372.3" class="j"/><rect x="394.2" class="d"/><rect x="416.1" class="u"/></g>
<g transform="translate(1319,552.4)"><rect x="0" class="b"/><rect x="21.9" class="b"/><rect x="43.8" class="b"/><rect x="65.7" class="b"/><rect x="87.6" class="c"/><rect x="109.5" class="c"/><rect x="131.4" class="c"/><rect x="153.3" class="c"/><rect x="175.2" class="c"/><rect x="197.1" class="c"/><rect x="219" class="c"/><rect x="240.9" class="c"/><rect x="262.8" class="c"/><rect x="284.7" class="d"/><rect x="306.6" class="f"/><rect x="328.5" class="u"/><rect x="350.4" class="d"/><rect x="372.3" class="l"/><rect x="394.2" class="e"/><rect x="416.1" class="f"/></g>
<g transform="translate(1319,574.6)"><rect x="0" class="c"/><rect x="21.9" class="g"/><rect x="43.8" class="u"/><rect x="65.7" class="t"/><rect x="87.6" class="d"/><rect x="109.5" class="e"/><rect x="131.4" class="b"/><rect x="153.3" class="f"/><rect x="175.2" class="c"/><rect x="197.1" class="d"/><rect x="219" class="c"/><rect x="240.9" class="a"/><rect x="262.8" class="b"/><rect x="284.7" class="c"/><rect x="306.6" class="a"/><rect x="328.5" class="e"/><rect x="350.4" class="a"/><rect x="372.3" class="c"/><rect x="394.2" class="a"/><rect x="416.1" class="e"/></g>

<g transform="translate(1319,678)"><rect x="0" class="g"/><rect x="21.9" class="l"/><rect x="43.8" class="f"/><rect x="65.7" class="i"/><rect x="87.6" class="j"/><rect x="109.5" class="d"/><rect x="131.4" class="d"/><rect x="153.3" class="f"/><rect x="175.2" class="j"/><rect x="197.1" class="g"/><rect x="219" class="o"/><rect x="240.9" class="m"/><rect x="262.8" class="n"/><rect x="284.7" class="p"/><rect x="306.6" class="f"/><rect x="328.5" class="n"/><rect x="350.4" class="j"/><rect x="372.3" class="r"/><rect x="394.2" class="f"/><rect x="416.1" class="u"/></g>
<g transform="translate(1319,700.2)"><rect x="0" class="r"/><rect x="21.9" class="n"/><rect x="43.8" class="p"/><rect x="65.7" class="k"/><rect x="87.6" class="g"/><rect x="109.5" class="d"/><rect x="131.4" class="i"/><rect x="153.3" class="h"/><rect x="175.2" class="k"/><rect x="197.1" class="d"/><rect x="219" class="h"/><rect x="240.9" class="f"/><rect x="262.8" class="d"/><rect x="284.7" class="c"/><rect x="306.6" class="c"/><rect x="328.5" class="h"/><rect x="350.4" class="d"/><rect x="372.3" class="c"/><rect x="394.2" class="c"/><rect x="416.1" class="u"/></g>
<g transform="translate(1319,722.4)"><rect x="0" class="m"/><rect x="21.9" class="t"/><rect x="43.8" class="i"/><rect x="65.7" class="u"/><rect x="87.6" class="r"/><rect x="109.5" class="b"/><rect x="131.4" class="c"/><rect x="153.3" class="b"/><rect x="175.2" class="b"/><rect x="197.1" class="b"/><rect x="219" class="b"/><rect x="240.9" class="a"/><rect x="262.8" class="a"/><rect x="284.7" class="a"/><rect x="306.6" class="a"/><rect x="328.5" class="b"/><rect x="350.4" class="a"/><rect x="372.3" class="a"/><rect x="394.2" class="a"/><rect x="416.1" class="a"/></g>

<g transform="translate(1319,902)"><rect x="0" class="n"/><rect x="21.9" class="u"/><rect x="43.8" class="m"/><rect x="65.7" class="i"/><rect x="87.6" class="c"/><rect x="109.5" class="b"/><rect x="131.4" class="b"/><rect x="153.3" class="b"/><rect x="175.2" class="a"/><rect x="197.1" class="a"/><rect x="219" class="a"/><rect x="240.9" class="a"/><rect x="262.8" class="a"/><rect x="284.7" class="a"/><rect x="306.6" class="a"/><rect x="328.5" class="a"/><rect x="350.4" class="a"/><rect x="372.3" class="a"/><rect x="394.2" class="a"/><rect x="416.1" class="a"/></g>
<g transform="translate(1319,924.2)"><rect x="0" class="b"/><rect x="21.9" class="u"/><rect x="43.8" class="b"/><rect x="65.7" class="b"/><rect x="87.6" class="b"/><rect x="109.5" class="b"/><rect x="131.4" class="b"/><rect x="153.3" class="b"/><rect x="175.2" class="b"/><rect x="197.1" class="b"/><rect x="219" class="b"/><rect x="240.9" class="a"/><rect x="262.8" class="b"/><rect x="284.7" class="b"/><rect x="306.6" class="d"/><rect x="328.5" class="d"/><rect x="350.4" class="d"/><rect x="372.3" class="b"/><rect x="394.2" class="d"/><rect x="416.1" class="d"/></g>
<g transform="translate(1319,946.4)"><rect x="0" class="r"/><rect x="21.9" class="t"/><rect x="43.8" class="u"/><rect x="65.7" class="p"/><rect x="87.6" class="h"/><rect x="109.5" class="l"/><rect x="131.4" class="n"/><rect x="153.3" class="m"/><rect x="175.2" class="s"/><rect x="197.1" class="q"/><rect x="219" class="m"/><rect x="240.9" class="s"/><rect x="262.8" class="j"/><rect x="284.7" class="j"/><rect x="306.6" class="g"/><rect x="328.5" class="k"/><rect x="350.4" class="t"/><rect x="372.3" class="i"/><rect x="394.2" class="g"/><rect x="416.1" class="j"/></g>

<g transform="translate(1319,1098)"><rect x="0" class="s"/><rect x="21.9" class="k"/><rect x="43.8" class="j"/><rect x="65.7" class="n"/><rect x="87.6" class="q"/><rect x="109.5" class="c"/><rect x="131.4" class="c"/><rect x="153.3" class="b"/><rect x="175.2" class="c"/><rect x="197.1" class="d"/><rect x="219" class="c"/><rect x="240.9" class="e"/><rect x="262.8" class="c"/><rect x="284.7" class="i"/><rect x="306.6" class="h"/><rect x="328.5" class="u"/><rect x="350.4" class="j"/><rect x="372.3" class="n"/><rect x="394.2" class="e"/><rect x="416.1" class="m"/></g>
<g transform="translate(1319,1120.2)"><rect x="0" class="u"/><rect x="21.9" class="r"/><rect x="43.8" class="j"/><rect x="65.7" class="l"/><rect x="87.6" class="s"/><rect x="109.5" class="i"/><rect x="131.4" class="i"/><rect x="153.3" class="g"/><rect x="175.2" class="h"/><rect x="197.1" class="g"/><rect x="219" class="g"/><rect x="240.9" class="e"/><rect x="262.8" class="e"/><rect x="284.7" class="f"/><rect x="306.6" class="c"/><rect x="328.5" class="i"/><rect x="350.4" class="c"/><rect x="372.3" class="f"/><rect x="394.2" class="b"/><rect x="416.1" class="d"/></g>
<g transform="translate(1319,1142.4)"><rect x="0" class="b"/><rect x="21.9" class="h"/><rect x="43.8" class="g"/><rect x="65.7" class="i"/><rect x="87.6" class="f"/><rect x="109.5" class="u"/><rect x="131.4" class="r"/><rect x="153.3" class="k"/><rect x="175.2" class="r"/><rect x="197.1" class="n"/><rect x="219" class="m"/><rect x="240.9" class="l"/><rect x="262.8" class="h"/><rect x="284.7" class="j"/><rect x="306.6" class="f"/><rect x="328.5" class="j"/><rect x="350.4" class="m"/><rect x="372.3" class="k"/><rect x="394.2" class="i"/><rect x="416.1" class="j"/></g>
<g transform="translate(1319,1164.6)"><rect x="0" class="n"/><rect x="21.9" class="n"/><rect x="43.8" class="k"/><rect x="65.7" class="u"/><rect x="87.6" class="i"/><rect x="109.5" class="c"/><rect x="131.4" class="c"/><rect x="153.3" class="b"/><rect x="175.2" class="b"/><rect x="197.1" class="b"/><rect x="219" class="a"/><rect x="240.9" class="a"/><rect x="262.8" class="a"/><rect x="284.7" class="b"/><rect x="306.6" class="b"/><rect x="328.5" class="b"/><rect x="350.4" class="b"/><rect x="372.3" class="b"/><rect x="394.2" class="b"/><rect x="416.1" class="b"/></g>
<g transform="translate(1319,1186.8)"><rect x="0" class="j"/><rect x="21.9" class="t"/><rect x="43.8" class="i"/><rect x="65.7" class="h"/><rect x="87.6" class="l"/><rect x="109.5" class="h"/><rect x="131.4" class="d"/><rect x="153.3" class="e"/><rect x="175.2" class="f"/><rect x="197.1" class="f"/><rect x="219" class="e"/><rect x="240.9" class="m"/><rect x="262.8" class="e"/><rect x="284.7" class="i"/><rect x="306.6" class="l"/><rect x="328.5" class="n"/><rect x="350.4" class="t"/><rect x="372.3" class="t"/><rect x="394.2" class="u"/><rect x="416.1" class="r"/></g>
<g transform="translate(1319,1209)"><rect x="0" class="d"/><rect x="21.9" class="h"/><rect x="43.8" class="d"/><rect x="65.7" class="p"/><rect x="87.6" class="n"/><rect x="109.5" class="i"/><rect x="131.4" class="f"/><rect x="153.3" class="g"/><rect x="175.2" class="j"/><rect x="197.1" class="i"/><rect x="219" class="h"/><rect x="240.9" class="d"/><rect x="262.8" class="f"/><rect x="284.7" class="l"/><rect x="306.6" class="j"/><rect x="328.5" class="p"/><rect x="350.4" class="s"/><rect x="372.3" class="p"/><rect x="394.2" class="u"/><rect x="416.1" class="n"/></g>

<g transform="translate(1319,1403)"><rect x="0" class="l"/><rect x="21.9" class="u"/><rect x="43.8" class="p"/><rect x="65.7" class="o"/><rect x="87.6" class="l"/><rect x="109.5" class="k"/><rect x="131.4" class="g"/><rect x="153.3" class="i"/><rect x="175.2" class="m"/><rect x="197.1" class="j"/><rect x="219" class="j"/><rect x="240.9" class="l"/><rect x="262.8" class="i"/><rect x="284.7" class="l"/><rect x="306.6" class="l"/><rect x="328.5" class="q"/><rect x="350.4" class="s"/><rect x="372.3" class="s"/><rect x="394.2" class="q"/><rect x="416.1" class="n"/></g>
<g transform="translate(1319,1425.2)"><rect x="0" class="s"/><rect x="21.9" class="u"/><rect x="43.8" class="n"/><rect x="65.7" class="j"/><rect x="87.6" class="h"/><rect x="109.5" class="f"/><rect x="131.4" class="c"/><rect x="153.3" class="c"/><rect x="175.2" class="e"/><rect x="197.1" class="e"/><rect x="219" class="f"/><rect x="240.9" class="h"/><rect x="262.8" class="e"/><rect x="284.7" class="f"/><rect x="306.6" class="g"/><rect x="328.5" class="e"/><rect x="350.4" class="g"/><rect x="372.3" class="g"/><rect x="394.2" class="g"/><rect x="416.1" class="f"/></g>
<g transform="translate(1319,1447.4)"><rect x="0" class="j"/><rect x="21.9" class="p"/><rect x="43.8" class="s"/><rect x="65.7" class="r"/><rect x="87.6" class="n"/><rect x="109.5" class="n"/><rect x="131.4" class="j"/><rect x="153.3" class="j"/><rect x="175.2" class="o"/><rect x="197.1" class="m"/><rect x="219" class="p"/><rect x="240.9" class="r"/><rect x="262.8" class="m"/><rect x="284.7" class="q"/><rect x="306.6" class="u"/><rect x="328.5" class="s"/><rect x="350.4" class="p"/><rect x="372.3" class="q"/><rect x="394.2" class="p"/><rect x="416.1" class="j"/></g>
<g transform="translate(1319,1469.6)"><rect x="0" class="e"/><rect x="21.9" class="h"/><rect x="43.8" class="d"/><rect x="65.7" class="d"/><rect x="87.6" class="c"/><rect x="109.5" class="c"/><rect x="131.4" class="c"/><rect x="153.3" class="c"/><rect x="175.2" class="e"/><rect x="197.1" class="d"/><rect x="219" class="f"/><rect x="240.9" class="l"/><rect x="262.8" class="f"/><rect x="284.7" class="g"/><rect x="306.6" class="p"/><rect x="328.5" class="u"/><rect x="350.4" class="m"/><rect x="372.3" class="r"/><rect x="394.2" class="p"/><rect x="416.1" class="i"/></g>
<g transform="translate(1319,1491.8)"><rect x="0" class="d"/><rect x="21.9" class="k"/><rect x="43.8" class="e"/><rect x="65.7" class="f"/><rect x="87.6" class="e"/><rect x="109.5" class="c"/><rect x="131.4" class="g"/><rect x="153.3" class="i"/><rect x="175.2" class="i"/><rect x="197.1" class="g"/><rect x="219" class="n"/><rect x="240.9" class="g"/><rect x="262.8" class="h"/><rect x="284.7" class="g"/><rect x="306.6" class="d"/><rect x="328.5" class="u"/><rect x="350.4" class="f"/><rect x="372.3" class="i"/><rect x="394.2" class="h"/><rect x="416.1" class="n"/></g>
<g transform="translate(1319,1514)"><rect x="0" class="d"/><rect x="21.9" class="c"/><rect x="43.8" class="a"/><rect x="65.7" class="b"/><rect x="87.6" class="c"/><rect x="109.5" class="a"/><rect x="131.4" class="a"/><rect x="153.3" class="a"/><rect x="175.2" class="a"/><rect x="197.1" class="b"/><rect x="219" class="b"/><rect x="240.9" class="b"/><rect x="262.8" class="b"/><rect x="284.7" class="b"/><rect x="306.6" class="b"/><rect x="328.5" class="u"/><rect x="350.4" class="i"/><rect x="372.3" class="g"/><rect x="394.2" class="n"/><rect x="416.1" class="q"/></g>
<g transform="translate(1319,1536.2)"><rect x="0" class="j"/><rect x="21.9" class="n"/><rect x="43.8" class="f"/><rect x="65.7" class="f"/><rect x="87.6" class="q"/><rect x="109.5" class="b"/><rect x="131.4" class="a"/><rect x="153.3" class="b"/><rect x="175.2" class="b"/><rect x="197.1" class="c"/><rect x="219" class="b"/><rect x="240.9" class="a"/><rect x="262.8" class="d"/><rect x="284.7" class="c"/><rect x="306.6" class="a"/><rect x="328.5" class="h"/><rect x="350.4" class="c"/><rect x="372.3" class="c"/><rect x="394.2" class="d"/><rect x="416.1" class="u"/></g>
<g transform="translate(1319,1558.4)"><rect x="0" class="k"/><rect x="21.9" class="q"/><rect x="43.8" class="i"/><rect x="65.7" class="j"/><rect x="87.6" class="l"/><rect x="109.5" class="g"/><rect x="131.4" class="n"/><rect x="153.3" class="p"/><rect x="175.2" class="o"/><rect x="197.1" class="l"/><rect x="219" class="q"/><rect x="240.9" class="h"/><rect x="262.8" class="j"/><rect x="284.7" class="j"/><rect x="306.6" class="f"/><rect x="328.5" class="u"/><rect x="350.4" class="k"/><rect x="372.3" class="n"/><rect x="394.2" class="i"/><rect x="416.1" class="s"/></g>
<g transform="translate(1319,1580.6)"><rect x="0" class="c"/><rect x="21.9" class="f"/><rect x="43.8" class="f"/><rect x="65.7" class="h"/><rect x="87.6" class="d"/><rect x="109.5" class="d"/><rect x="131.4" class="d"/><rect x="153.3" class="d"/><rect x="175.2" class="d"/><rect x="197.1" class="d"/><rect x="219" class="e"/><rect x="240.9" class="e"/><rect x="262.8" class="e"/><rect x="284.7" class="f"/><rect x="306.6" class="f"/><rect x="328.5" class="m"/><rect x="350.4" class="m"/><rect x="372.3" class="j"/><rect x="394.2" class="o"/><rect x="416.1" class="u"/></g>
<g transform="translate(1319,1602.8)"><rect x="0" class="h"/><rect x="21.9" class="m"/><rect x="43.8" class="m"/><rect x="65.7" class="m"/><rect x="87.6" class="i"/><rect x="109.5" class="l"/><rect x="131.4" class="u"/><rect x="153.3" class="o"/><rect x="175.2" class="p"/><rect x="197.1" class="m"/><rect x="219" class="q"/><rect x="240.9" class="p"/><rect x="262.8" class="n"/><rect x="284.7" class="m"/><rect x="306.6" class="h"/><rect x="328.5" class="n"/><rect x="350.4" class="e"/><rect x="372.3" class="m"/><rect x="394.2" class="f"/><rect x="416.1" class="g"/></g>
<g transform="translate(1319,1625)"><rect x="0" class="h"/><rect x="21.9" class="i"/><rect x="43.8" class="k"/><rect x="65.7" class="o"/><rect x="87.6" class="m"/><rect x="109.5" class="g"/><rect x="131.4" class="f"/><rect x="153.3" class="g"/><rect x="175.2" class="j"/><rect x="197.1" class="h"/><rect x="219" class="j"/><rect x="240.9" class="j"/><rect x="262.8" class="h"/><rect x="284.7" class="j"/><rect x="306.6" class="n"/><rect x="328.5" class="q"/><rect x="350.4" class="r"/><rect x="372.3" class="p"/><rect x="394.2" class="u"/><rect x="416.1" class="t"/></g>
<g transform="translate(1319,1647.2)"><rect x="0" class="j"/><rect x="21.9" class="u"/><rect x="43.8" class="n"/><rect x="65.7" class="p"/><rect x="87.6" class="m"/><rect x="109.5" class="k"/><rect x="131.4" class="i"/><rect x="153.3" class="j"/><rect x="175.2" class="m"/><rect x="197.1" class="h"/><rect x="219" class="h"/><rect x="240.9" class="l"/><rect x="262.8" class="i"/><rect x="284.7" class="j"/><rect x="306.6" class="f"/><rect x="328.5" class="j"/><rect x="350.4" class="f"/><rect x="372.3" class="f"/><rect x="394.2" class="f"/><rect x="416.1" class="f"/></g>
<g transform="translate(1319,1669.4)"><rect x="0" class="d"/><rect x="21.9" class="e"/><rect x="43.8" class="e"/><rect x="65.7" class="g"/><rect x="87.6" class="j"/><rect x="109.5" class="p"/><rect x="131.4" class="n"/><rect x="153.3" class="n"/><rect x="175.2" class="p"/><rect x="197.1" class="q"/><rect x="219" class="n"/><rect x="240.9" class="m"/><rect x="262.8" class="l"/><rect x="284.7" class="o"/><rect x="306.6" class="q"/><rect x="328.5" class="u"/><rect x="350.4" class="r"/><rect x="372.3" class="s"/><rect x="394.2" class="r"/><rect x="416.1" class="m"/></g>
<g transform="translate(1319,1691.6)"><rect x="0" class="o"/><rect x="21.9" class="u"/><rect x="43.8" class="r"/><rect x="65.7" class="s"/><rect x="87.6" class="p"/><rect x="109.5" class="l"/><rect x="131.4" class="l"/><rect x="153.3" class="j"/><rect x="175.2" class="o"/><rect x="197.1" class="l"/><rect x="219" class="m"/><rect x="240.9" class="k"/><rect x="262.8" class="j"/><rect x="284.7" class="m"/><rect x="306.6" class="p"/><rect x="328.5" class="u"/><rect x="350.4" class="u"/><rect x="372.3" class="s"/><rect x="394.2" class="t"/><rect x="416.1" class="m"/></g>
<g transform="translate(1319,1713.8)"><rect x="0" class="c"/><rect x="21.9" class="b"/><rect x="43.8" class="b"/><rect x="65.7" class="c"/><rect x="87.6" class="b"/><rect x="109.5" class="b"/><rect x="131.4" class="b"/><rect x="153.3" class="a"/><rect x="175.2" class="a"/><rect x="197.1" class="b"/><rect x="219" class="c"/><rect x="240.9" class="b"/><rect x="262.8" class="b"/><rect x="284.7" class="d"/><rect x="306.6" class="b"/><rect x="328.5" class="u"/><rect x="350.4" class="b"/><rect x="372.3" class="l"/><rect x="394.2" class="b"/><rect x="416.1" class="j"/></g>
<g transform="translate(1319,1736)"><rect x="0" class="u"/><rect x="21.9" class="n"/><rect x="43.8" class="f"/><rect x="65.7" class="h"/><rect x="87.6" class="r"/><rect x="109.5" class="b"/><rect x="131.4" class="b"/><rect x="153.3" class="b"/><rect x="175.2" class="b"/><rect x="197.1" class="b"/><rect x="219" class="b"/><rect x="240.9" class="b"/><rect x="262.8" class="a"/><rect x="284.7" class="a"/><rect x="306.6" class="a"/><rect x="328.5" class="c"/><rect x="350.4" class="a"/><rect x="372.3" class="b"/><rect x="394.2" class="a"/><rect x="416.1" class="c"/></g>

<g transform="translate(1319,1849)"><rect x="0" class="h"/><rect x="21.9" class="g"/><rect x="43.8" class="d"/><rect x="65.7" class="f"/><rect x="87.6" class="g"/><rect x="109.5" class="d"/><rect x="131.4" class="c"/><rect x="153.3" class="c"/><rect x="175.2" class="e"/><rect x="197.1" class="c"/><rect x="219" class="d"/><rect x="240.9" class="e"/><rect x="262.8" class="c"/><rect x="284.7" class="e"/><rect x="306.6" class="g"/><rect x="328.5" class="p"/><rect x="350.4" class="q"/><rect x="372.3" class="t"/><rect x="394.2" class="m"/><rect x="416.1" class="u"/></g>
</g>

<g id="row-labels" class="hl">
<text x="1763" y="95.6">ZmZEP1−1</text>
<text x="1763" y="117.8">Zm00001d017199</text>
<text x="1763" y="140">ZmNCED4</text>
<text x="1763" y="162.2">Zm00001d049277</text>
<text x="1763" y="184.4">ZmMOCS2</text>
<text x="1763" y="206.6">Zm00001d011117</text>
<text x="1763" y="262.6">ZmACS2</text>
<text x="1763" y="284.8">ZmACS3</text>
<text x="1763" y="307">ZmACCO5</text>
<text x="1763" y="329.2">Zm00001d042996</text>
<text x="1763" y="351.4">ZmMTN1</text>
<text x="1763" y="373.6">ZmMTN2</text>
<text x="1763" y="395.8">ZmTIDP3358</text>
<text x="1763" y="418">ZmIDP2449</text>
<text x="1763" y="440.2">ZmAAS11</text>
<text x="1763" y="526.6">ZmDE18</text>
<text x="1763" y="548.8">ZmAAS3</text>
<text x="1763" y="571">ZmAAS7</text>
<text x="1763" y="593.2">Zm00001d043235</text>
<text x="1763" y="696.6">ZmD3</text>
<text x="1763" y="718.8">ZmGA13Ox1</text>
<text x="1763" y="741">ZmGA2Ox3</text>
<text x="1763" y="920.6">Zm00001d021450</text>
<text x="1763" y="942.8">Zm00001d011246</text>
<text x="1763" y="965">ZmCKO4</text>
<text x="1763" y="1116.6">ZmTS1</text>
<text x="1763" y="1138.8">Zm00001d047340</text>
<text x="1763" y="1161">ZmOPR5</text>
<text x="1763" y="1183.2">ZmOPR6</text>
<text x="1763" y="1205.4">ZmUMC2337</text>
<text x="1763" y="1227.6">ZmAAS11</text>
<text x="1763" y="1421.6">Zm00001d006242</text>
<text x="1763" y="1443.8">Zm00001d041700</text>
<text x="1763" y="1466">ZmCL40355_1</text>
<text x="1763" y="1488.2">Zm00001d052247</text>
<text x="1763" y="1510.4">ZmPAL1</text>
<text x="1763" y="1532.6">ZmPAL7</text>
<text x="1763" y="1554.8">ZmPAL8</text>
<text x="1763" y="1577">ZmPAL9</text>
<text x="1763" y="1599.2">ZmALDH13</text>
<text x="1763" y="1621.4">ZmALDH25</text>
<text x="1763" y="1643.6">ZmRF2</text>
<text x="1763" y="1665.8">ZmCMU3</text>
<text x="1763" y="1688">ZmGOT1</text>
<text x="1763" y="1710.2">ZmGOT5</text>
<text x="1763" y="1732.4">Zm00001d005351</text>
<text x="1763" y="1754.6">Zm00001d025333</text>
<text x="1763" y="1867.6">ZmY9</text>
</g>
</svg>
